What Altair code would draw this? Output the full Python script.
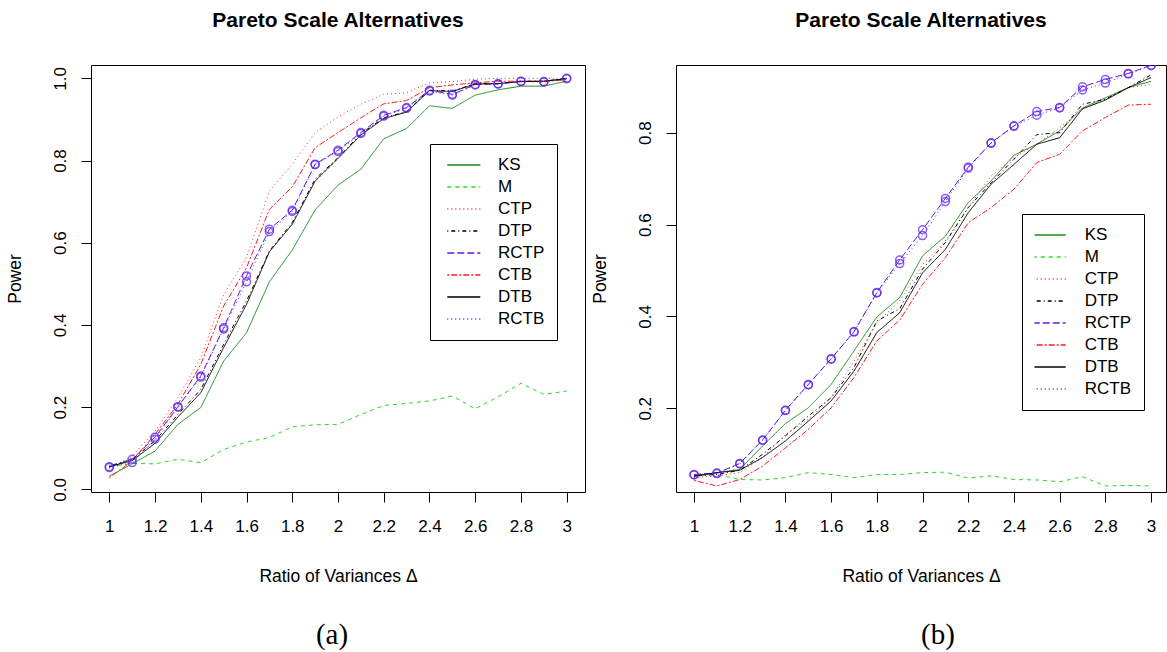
import altair as alt
import pandas as pd

X = [1.0, 1.1, 1.2, 1.3, 1.4, 1.5, 1.6, 1.7, 1.8, 1.9, 2.0,
     2.1, 2.2, 2.3, 2.4, 2.5, 2.6, 2.7, 2.8, 2.9, 3.0]
SERIES = ["KS", "M", "CTP", "DTP", "RCTP", "CTB", "DTB", "RCTB"]
CIRCLE_SERIES = ["RCTP", "RCTB"]

# ---- panel (a) ----
A_KS = [0.032, 0.062, 0.093, 0.158, 0.199, 0.312, 0.381, 0.505, 0.582, 0.680, 0.740,
        0.779, 0.853, 0.878, 0.933, 0.927, 0.959, 0.972, 0.981, 0.981, 0.993]
A_M = [0.055, 0.063, 0.062, 0.073, 0.065, 0.097, 0.115, 0.126, 0.152, 0.157, 0.158,
       0.182, 0.204, 0.209, 0.215, 0.227, 0.196, 0.225, 0.258, 0.231, 0.239]
A_CTP = [0.050, 0.081, 0.142, 0.223, 0.320, 0.474, 0.564, 0.726, 0.791, 0.868, 0.906,
         0.937, 0.961, 0.965, 0.989, 0.992, 0.998, 1.000, 1.000, 1.000, 0.998]
A_DTP = [0.057, 0.073, 0.118, 0.182, 0.243, 0.353, 0.458, 0.580, 0.649, 0.755, 0.807,
         0.865, 0.904, 0.919, 0.971, 0.969, 0.987, 0.987, 0.993, 0.993, 1.000]
A_RCTP = [0.055, 0.073, 0.127, 0.201, 0.276, 0.393, 0.519, 0.633, 0.679, 0.791, 0.825,
          0.868, 0.910, 0.929, 0.971, 0.961, 0.985, 0.987, 0.993, 0.992, 1.000]
A_CTB = [0.028, 0.069, 0.134, 0.207, 0.304, 0.446, 0.539, 0.681, 0.736, 0.831, 0.868,
         0.904, 0.938, 0.946, 0.977, 0.984, 0.989, 0.993, 0.993, 0.993, 0.996]
A_DTB = [0.055, 0.070, 0.112, 0.176, 0.235, 0.345, 0.450, 0.578, 0.645, 0.750, 0.805,
         0.862, 0.902, 0.918, 0.970, 0.968, 0.986, 0.987, 0.992, 0.993, 0.999]
A_RCTB = [0.053, 0.065, 0.122, 0.200, 0.273, 0.390, 0.505, 0.627, 0.676, 0.790, 0.822,
          0.866, 0.908, 0.927, 0.969, 0.959, 0.984, 0.986, 0.992, 0.991, 0.999]

# ---- panel (b) ----
B_KS = [0.051, 0.060, 0.067, 0.118, 0.167, 0.201, 0.252, 0.325, 0.399, 0.441, 0.532,
        0.575, 0.648, 0.695, 0.751, 0.775, 0.804, 0.854, 0.876, 0.898, 0.912]
B_M = [0.053, 0.056, 0.045, 0.044, 0.049, 0.060, 0.056, 0.049, 0.056, 0.056, 0.060,
       0.061, 0.048, 0.053, 0.045, 0.044, 0.040, 0.051, 0.031, 0.032, 0.031]
B_CTP = [0.049, 0.053, 0.060, 0.093, 0.143, 0.176, 0.223, 0.303, 0.386, 0.434, 0.513,
         0.564, 0.637, 0.706, 0.746, 0.775, 0.811, 0.851, 0.873, 0.898, 0.905]
B_DTP = [0.053, 0.056, 0.065, 0.100, 0.140, 0.183, 0.223, 0.289, 0.390, 0.417, 0.503,
         0.561, 0.637, 0.691, 0.742, 0.796, 0.800, 0.862, 0.873, 0.898, 0.926]
B_RCTP = [0.056, 0.059, 0.080, 0.131, 0.196, 0.252, 0.308, 0.367, 0.452, 0.523, 0.589,
          0.657, 0.725, 0.778, 0.815, 0.846, 0.855, 0.900, 0.916, 0.929, 0.947]
B_CTB = [0.043, 0.031, 0.045, 0.074, 0.114, 0.154, 0.201, 0.267, 0.347, 0.392, 0.470,
         0.528, 0.604, 0.637, 0.677, 0.735, 0.753, 0.804, 0.833, 0.860, 0.862]
B_DTB = [0.053, 0.060, 0.065, 0.093, 0.129, 0.172, 0.216, 0.281, 0.365, 0.408, 0.495,
         0.546, 0.626, 0.688, 0.731, 0.775, 0.789, 0.852, 0.871, 0.898, 0.920]
B_RCTB = [0.055, 0.058, 0.079, 0.130, 0.195, 0.251, 0.307, 0.366, 0.451, 0.515, 0.576,
          0.650, 0.723, 0.777, 0.814, 0.838, 0.854, 0.893, 0.908, 0.928, 0.946]

A_Y_TICKS = [0.0, 0.2, 0.4, 0.6, 0.8, 1.0]
B_Y_TICKS = [0.2, 0.4, 0.6, 0.8]
TITLE = "Pareto Scale Alternatives"
X_TITLE = "Ratio of Variances Δ"
Y_TITLE = "Power"

COLORS = ["#1c8c1c", "#22dd22", "#ff2a2a", "#000000", "#5a1ef0", "#ff1a1a", "#000000", "#5a1ef0"]
DASHES = [[1, 0], [4, 4], [1, 3], [1, 3, 4, 3], [7, 3], [2, 2, 6, 2], [1, 0], [1, 3]]
BLUE = "#5a1ef0"
FONT = "Liberation Sans"

H = 427


def long_df(arrays):
    rows = []
    for name, vals in zip(SERIES, arrays):
        for xv, yv in zip(X, vals):
            rows.append({"x": xv, "value": yv, "series": name})
    return pd.DataFrame(rows)


def panel(df, width, xdom, ydom, yticks, lx, ly, sym_off, lab_off, caption, cap_x):
    legend = alt.Legend(
        title=None, orient="none", legendX=lx, legendY=ly,
        strokeColor="black", fillColor="white", cornerRadius=0,
        padding=12.5, rowPadding=4, clipHeight=17, symbolType="stroke", symbolSize=1089,
        symbolStrokeWidth=1.5, symbolOffset=sym_off, labelOffset=lab_off,
        labelFont=FONT, labelFontSize=17, labelColor="black",
    )
    xenc = alt.X(
        "x:Q", title=X_TITLE,
        scale=alt.Scale(domain=xdom, nice=False, zero=False),
        axis=alt.Axis(
            values=X, format="~g",
            labelExpr="round(datum.value*10) % 2 == 0 ? datum.label : ''",
            labelOverlap=False, labelFlush=False, labelPadding=16,
            titleX=width / 2, titleY=84, titleAlign="center", titleBaseline="middle",
        ),
    )
    yenc = alt.Y(
        "value:Q", title=Y_TITLE,
        scale=alt.Scale(domain=ydom, nice=False, zero=False),
        axis=alt.Axis(
            values=yticks, format=".1f", labelAngle=270, labelAlign="center",
            labelBaseline="bottom", labelPadding=12, labelOverlap=False,
            titleX=-76, titleY=H / 2, titleAngle=270, titleAlign="center",
            titleBaseline="middle",
        ),
    )
    base = alt.Chart(df)
    lines = base.mark_line(strokeWidth=1, clip=True).encode(
        x=xenc, y=yenc,
        color=alt.Color("series:N", scale=alt.Scale(domain=SERIES, range=COLORS), legend=legend),
        strokeDash=alt.StrokeDash("series:N", scale=alt.Scale(domain=SERIES, range=DASHES), legend=legend),
    )
    pts = base.transform_filter(
        alt.FieldOneOfPredicate(field="series", oneOf=CIRCLE_SERIES)
    ).mark_point(shape="circle", filled=False, size=64, strokeWidth=1.5, color=BLUE, clip=True).encode(
        x=alt.X("x:Q"), y=alt.Y("value:Q"),
    )
    cap = alt.Chart(pd.DataFrame({"t": [caption]})).mark_text(
        font="Liberation Serif", fontSize=29, color="black", baseline="middle", align="center"
    ).encode(text="t:N", x=alt.value(cap_x), y=alt.value(570))
    return alt.layer(lines, pts, cap).properties(
        width=width, height=H,
        title=alt.TitleParams(TITLE, font=FONT, fontSize=21, fontWeight="bold", anchor="middle",
                              frame="group", baseline="alphabetic", offset=17.4, color="black"),
    )


pa = panel(long_df([A_KS, A_M, A_CTP, A_DTP, A_RCTP, A_CTB, A_DTB, A_RCTB]), 494,
           [0.92, 3.08], [-0.0065, 1.0324], A_Y_TICKS, 339, 79, 3.8, 16.7, "(a)", 241)
pb = panel(long_df([B_KS, B_M, B_CTP, B_DTP, B_RCTP, B_CTB, B_DTB, B_RCTB]), 490,
           [0.921, 3.0654], [0.0178, 0.9474], B_Y_TICKS, 346, 149, -2.8, 18, "(b)", 262)

chart = alt.hconcat(pa, pb, spacing=91, bounds="flush").resolve_scale(
    color="independent", strokeDash="independent"
).properties(
    padding={"left": 5, "top": 9, "right": 0, "bottom": 0},
    background="white",
).configure_view(stroke="black", strokeWidth=1).configure_axis(
    domain=False, grid=False, tickColor="black", tickSize=10, tickWidth=1,
    labelColor="black", labelFont=FONT, labelFontSize=17,
    titleColor="black", titleFont=FONT, titleFontSize=17.5, titleFontWeight="normal",
)

chart.save("out.html", embed_options={"renderer": "svg", "actions": False})
